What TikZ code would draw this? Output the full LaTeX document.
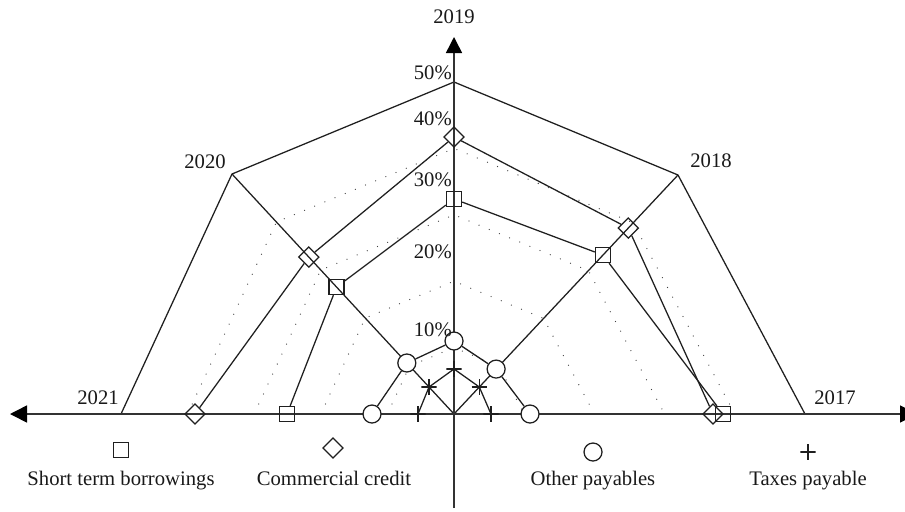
\documentclass[tikz,border=0pt]{standalone}
\usepackage{fontspec}
\setmainfont{Liberation Serif}
\usetikzlibrary{arrows.meta,calc,shapes.geometric}
\begin{document}
\begin{tikzpicture}[x=0.75pt,y=-0.75pt,
  lbl/.style={font=\fontsize{15.5}{18}\selectfont, inner sep=0pt, text=black!90},
  pct/.style={lbl, anchor=east},
  ser/.style={line width=0.95pt, draw=black!88},
  gridln/.style={line width=0.95pt, draw=black!75, line cap=round, dash pattern=on 0pt off 8.25pt},
  axisln/.style={line width=1.15pt, draw=black!80},
  sqm/.style={draw=black!88, line width=0.95pt, rectangle, minimum size=11.25pt, inner sep=0pt},
  dmm/.style={draw=black!88, line width=0.95pt, diamond, aspect=1, minimum size=15.5pt, inner sep=0pt},
  cim/.style={draw=black!88, fill=white, line width=0.95pt, circle, minimum size=13.5pt, inner sep=0pt},
  plm/.style={rectangle, minimum size=11.5pt, inner sep=0pt,
    path picture={\draw[black!88, line width=0.95pt]
      (path picture bounding box.north) -- (path picture bounding box.south)
      (path picture bounding box.west) -- (path picture bounding box.east);}},
  tip/.style={Triangle[length=#1,width=#1, fill=black, color=black]},
]
\useasboundingbox (0,0) rectangle (905,511);

% frame points
\coordinate (O) at (454,414);
\coordinate (V17) at (805,414);
\coordinate (V18) at (678,175);
\coordinate (V19) at (454,82);
\coordinate (V20) at (232,174);
\coordinate (V21) at (121,414);
\coordinate (L) at (10,414);
\coordinate (R) at (917,414);
\coordinate (T) at (454,37);
\coordinate (B) at (454,508);

% dotted grid
\foreach \f in {0.2,0.4,0.6,0.8}
  \draw[gridln] ($(O)!\f!(V21)$) -- ($(O)!\f!(V20)$) -- ($(O)!\f!(V19)$)
     -- ($(O)!\f!(V18)$) -- ($(O)!\f!(V17)$);

% outer frame and spokes
\draw[ser] (V21) -- (V20) -- (V19) -- (V18) -- (V17);
\draw[ser] (O) -- (V20);
\draw[ser] (O) -- (V18);

% axes
\draw[axisln, {Triangle[length=12.75pt,width=12.75pt,fill=black,color=black]}-{Triangle[length=12.75pt,width=12.75pt,fill=black,color=black]}] (L) -- (R);
\draw[axisln, -{Triangle[length=12pt,width=12pt,fill=black,color=black]}] (B) -- (T);

% short term borrowings
\node[sqm] (s21) at (287,414) {};
\node[sqm] (s20) at ($(O)!0.529!(V20)$) {};
\node[sqm] (s19) at (454,199) {};
\node[sqm] (s18) at ($(O)!0.665!(V18)$) {};
\node[sqm] (s17) at (723,414) {};
\draw[ser] (s21) -- (s20) -- (s19) -- (s18) -- (s17);

% commercial credit
\node[dmm] (d21) at (195,414) {};
\node[dmm] (d20) at ($(O)!0.654!(V20)$) {};
\node[dmm] (d19) at (454,137) {};
\node[dmm] (d18) at ($(O)!0.778!(V18)$) {};
\node[dmm] (d17) at (713,414) {};
\draw[ser] (d21) -- (d20) -- (d19) -- (d18) -- (d17);

% taxes payable
\node[plm] (t21) at (418,414) {};
\node[plm] (t20) at ($(O)!0.1125!(V20)$) {};
\node[plm] (t19) at (454,369) {};
\node[plm] (t18) at ($(O)!0.113!(V18)$) {};
\node[plm] (t17) at (491,414) {};
\draw[ser] (t21.center) -- (t20.center) -- (t19.center) -- (t18.center) -- (t17.center);

% other payables
\node[cim] (c21) at (372,414) {};
\node[cim] (c20) at ($(O)!0.2125!(V20)$) {};
\node[cim] (c19) at (454,341) {};
\node[cim] (c18) at ($(O)!0.188!(V18)$) {};
\node[cim] (c17) at (530,414) {};
\draw[ser] (c21) -- (c20) -- (c19) -- (c18) -- (c17);

% axis labels
\node[lbl] (y19) at (454,17) {2019};
\node[lbl] (y20) at (205,162) {2020};
\node[lbl] (y18) at (711,161) {2018};
\node[lbl] (y21) at (98,398) {2021};
\node[lbl] (y17) at (835,398) {2017};

% percentage labels
\node[pct] (q50) at (452,73) {50\%};
\node[pct] (q40) at (452,119) {40\%};
\node[pct] (q30) at (452,180) {30\%};
\node[pct] (q20) at (452,252) {20\%};
\node[pct] (q10) at (452,330) {10\%};

% legend
\node[sqm] (ls) at (121,450) {};
\node[lbl, anchor=base] (lst) at (121,485) {Short term borrowings};
\node[dmm, minimum size=15.5pt] (ld) at (333,448) {};
\node[lbl, anchor=base] (ldt) at (334,485) {Commercial credit};
\node[cim] (lc) at (593,452) {};
\node[lbl, anchor=base] (lct) at (593,485) {Other payables};
\node[plm] (lp) at (808,452) {};
\node[lbl, anchor=base] (lpt) at (808,485) {Taxes payable};
\end{tikzpicture}
\end{document}
